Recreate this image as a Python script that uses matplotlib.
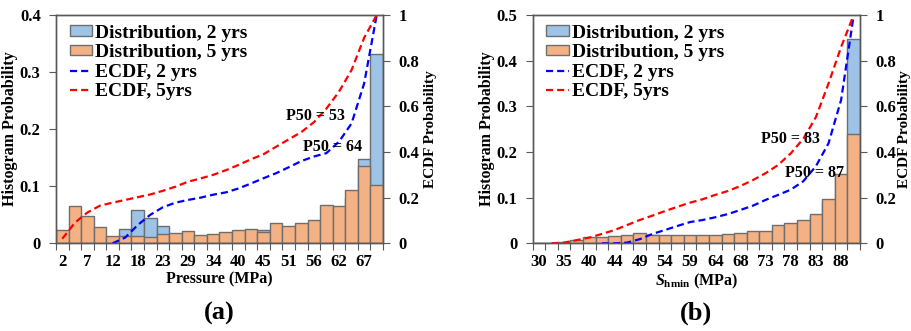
import numpy as np
import matplotlib
matplotlib.use("Agg")
import matplotlib.pyplot as plt
from matplotlib.patches import Patch
from matplotlib.lines import Line2D

plt.rcParams['font.family'] = ['Liberation Serif', 'DejaVu Serif']
plt.rcParams['font.weight'] = 'bold'
plt.rcParams['mathtext.fontset'] = 'custom'
plt.rcParams['mathtext.it'] = 'Liberation Serif:italic:bold'
plt.rcParams['mathtext.bf'] = 'Liberation Serif:bold'
plt.rcParams['mathtext.rm'] = 'Liberation Serif:bold'

nan = np.nan

# (a) pore pressure histograms, 26 bins
pressure_labels = ["2", "7", "12", "18", "23", "29", "34", "40", "45", "51", "56", "62", "67"]
pressure_2yrs = [0, 0, 0, 0, 0, 0.025, 0.059, 0.044, 0.030, 0.017, 0.012, 0.010, 0.013,
                 0.010, 0.017, 0.022, 0.023, 0.022, 0.026, 0.027, 0.020, 0.015, 0.050,
                 0.080, 0.148, 0.331]
pressure_5yrs = [0.023, 0.065, 0.047, 0.029, 0.012, 0.012, 0.013, 0.011, 0.016, 0.018,
                 0.022, 0.014, 0.016, 0.020, 0.023, 0.025, 0.019, 0.035, 0.031, 0.036,
                 0.040, 0.067, 0.065, 0.093, 0.136, 0.102]
pressure_ecdf_2yrs = [nan, nan, nan, nan, 0.0, 0.025, 0.08, 0.125, 0.158, 0.178, 0.19,
                      0.2, 0.213, 0.223, 0.24, 0.262, 0.285, 0.307, 0.333, 0.36, 0.38,
                      0.395, 0.445, 0.525, 0.70, 1.0]
pressure_ecdf_5yrs = [0.02, 0.09, 0.135, 0.165, 0.178, 0.19, 0.202, 0.214, 0.23, 0.248,
                      0.27, 0.284, 0.30, 0.32, 0.343, 0.368, 0.39, 0.423, 0.455, 0.487,
                      0.53, 0.59, 0.664, 0.759, 0.90, 1.0]

# (b) Shmin histograms, 26 bins
shmin_labels = ["30", "35", "40", "44", "49", "54", "59", "64", "68", "73", "78", "83", "88"]
shmin_2yrs = [0, 0, 0, 0, 0, 0, 0, 0.003, 0.015, 0.018, 0.017, 0.017, 0.017, 0.007,
              0.012, 0.014, 0.018, 0.019, 0.025, 0.020, 0.023, 0.037, 0.060, 0.090,
              0.145, 0.447]
shmin_5yrs = [0.001, 0.001, 0.002, 0.0065, 0.013, 0.0145, 0.016, 0.0175, 0.022, 0.019,
              0.018, 0.018, 0.018, 0.018, 0.018, 0.0195, 0.023, 0.028, 0.026, 0.041,
              0.045, 0.050, 0.065, 0.096, 0.151, 0.239]
shmin_ecdf_2yrs = [nan, nan, nan, nan, nan, 0.0, 0.0, 0.003, 0.018, 0.041, 0.058, 0.076,
                   0.093, 0.102, 0.114, 0.128, 0.146, 0.165, 0.19, 0.212, 0.235, 0.272,
                   0.338, 0.438, 0.628, 1.0]
shmin_ecdf_5yrs = [nan, 0.0, 0.003, 0.014, 0.025, 0.041, 0.058, 0.08, 0.102, 0.121, 0.141,
                   0.16, 0.178, 0.193, 0.212, 0.229, 0.251, 0.277, 0.307, 0.343, 0.394,
                   0.458, 0.553, 0.70, 0.86, 1.0]

BLUE_BAR = '#9dc3e6'
ORANGE_BAR = '#f4b183'
EDGE = '#6e6e6e'
SPINE = '#595959'
TICK_FS = 12
LABEL_FS = 11.5
LEGEND_FS = 14
DASH = (0, (3.2, 1.8))
W, H = 912, 331


def draw_panel(rect, labels, h2, h5, e2, e5, ymax, xlabel, p50s, right_label_x):
    ax = fig.add_axes(rect)
    ax2 = ax.twinx()
    x = np.arange(len(h5))

    ax.bar(x, h2, width=1.0, color=BLUE_BAR, edgecolor=EDGE, linewidth=1.0)
    ax.bar(x, h5, width=1.0, color=ORANGE_BAR, edgecolor=EDGE, linewidth=1.0)
    ax2.plot(x, e2, color='#0000ff', lw=1.6, ls=DASH)
    ax2.plot(x, e5, color='#ff0000', lw=1.6, ls=DASH)

    ax.set_xlim(-0.5, len(h5) - 0.5)
    ax.set_ylim(0, ymax)
    ax2.set_ylim(0, 1)

    # ticks between categories, labels on every other category
    ax.set_xticks(np.arange(-0.5, len(h5)))
    ax.set_xticklabels([])
    ax.set_xticks(np.arange(0, len(h5), 2), minor=True)
    ax.set_xticklabels(labels, minor=True)
    ax.tick_params(axis='x', which='major', direction='out', length=5, color=SPINE)
    ax.tick_params(axis='x', which='minor', length=0, pad=8, labelsize=TICK_FS)

    yt = np.arange(0, ymax + 1e-9, 0.1)
    ax.set_yticks(yt)
    ax.set_yticklabels(['0' if v == 0 else f'{v:.1f}' for v in yt])
    ax.tick_params(axis='y', direction='out', length=5, pad=6, color=SPINE, labelsize=TICK_FS)
    ax2.set_yticks(np.arange(0, 1.01, 0.2))
    ax2.set_yticklabels(['0', '0.2', '0.4', '0.6', '0.8', '1'])
    ax2.tick_params(axis='y', direction='out', length=5, pad=6, color=SPINE, labelsize=TICK_FS)

    for a in (ax, ax2):
        for s in a.spines.values():
            s.set_color(SPINE)
            s.set_linewidth(1.0)

    ax.set_ylabel('Histogram Probability', fontsize=LABEL_FS, fontweight='bold', labelpad=1)
    ax.set_xlabel(xlabel, fontsize=LABEL_FS, fontweight='bold', labelpad=1)
    # right axis title placed by hand so it stays inside the figure
    ycen = rect[1] + rect[3] / 2
    fig.text(right_label_x / W, ycen, 'ECDF Probability', rotation=90, ha='center',
             va='center', fontsize=11, fontweight='bold')

    for xt, yt_, txt in p50s:
        ax2.text(xt, yt_, txt, ha='center', va='center', fontsize=LABEL_FS, fontweight='bold')

    handles = [Patch(facecolor=BLUE_BAR, edgecolor=EDGE),
               Patch(facecolor=ORANGE_BAR, edgecolor=EDGE),
               Line2D([], [], color='#0000ff', lw=1.6, ls=DASH),
               Line2D([], [], color='#ff0000', lw=1.6, ls=DASH)]
    names = ['Distribution, 2 yrs', 'Distribution, 5 yrs', 'ECDF, 2 yrs', 'ECDF, 5yrs']
    ax2.legend(handles, names, loc='upper left', bbox_to_anchor=(0.03, 0.975),
               frameon=False, fontsize=LEGEND_FS, labelspacing=0.13, handlelength=1.15,
               handleheight=0.45, handletextpad=0.15, borderpad=0.2, borderaxespad=0)
    return ax, ax2


fig = plt.figure(figsize=(W / 100, H / 100), dpi=100)

draw_panel([56 / W, 1 - 243.3 / H, 327 / W, 228.3 / H],
           pressure_labels, pressure_2yrs, pressure_5yrs,
           pressure_ecdf_2yrs, pressure_ecdf_5yrs, 0.4, 'Pressure (MPa)',
           [(20.1, 0.558, 'P50 = 53'), (21.45, 0.422, 'P50 = 64')], 431)

draw_panel([532.7 / W, 1 - 243.3 / H, 327.3 / W, 228.3 / H],
           shmin_labels, shmin_2yrs, shmin_5yrs,
           shmin_ecdf_2yrs, shmin_ecdf_5yrs, 0.5, r'$S_{\mathbf{hmin}}$ (MPa)',
           [(20.0, 0.457, 'P50 = 83'), (21.85, 0.31, 'P50 = 87')], 905)

fig.text(219.5 / W, 1 - 313 / H, '(a)', ha='center', va='center', fontsize=19, fontweight='bold')
fig.text(696 / W, 1 - 313 / H, '(b)', ha='center', va='center', fontsize=19, fontweight='bold')

fig.savefig('out.png', dpi=100)
